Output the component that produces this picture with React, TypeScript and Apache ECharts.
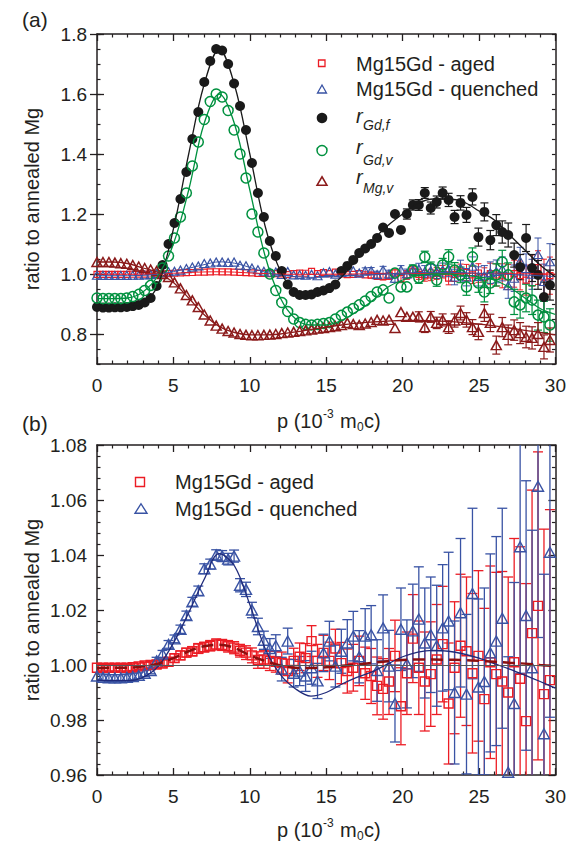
import React, { useEffect, useRef } from 'react';
import * as echarts from 'echarts';

// momentum grid p (10^-3 m0c)
const P = [
  0, 0.39, 0.78, 1.17, 1.56, 1.95, 2.34, 2.73, 3.12, 3.51,
  3.9, 4.29, 4.68, 5.07, 5.46, 5.85, 6.24, 6.63, 7.02, 7.41,
  7.8, 8.19, 8.58, 8.97, 9.36, 9.75, 10.14, 10.53, 10.92, 11.31,
  11.7, 12.09, 12.48, 12.87, 13.26, 13.65, 14.04, 14.43, 14.82, 15.21,
  15.6, 15.99, 16.38, 16.77, 17.16, 17.55, 17.94, 18.33, 18.72, 19.11,
  19.5, 19.89, 20.28, 20.67, 21.06, 21.45, 21.84, 22.23, 22.62, 23.01,
  23.4, 23.79, 24.18, 24.57, 24.96, 25.35, 25.74, 26.13, 26.52, 26.91,
  27.3, 27.69, 28.08, 28.47, 28.86, 29.25, 29.64,
];

// Mg15Gd - aged
const AGED = [
  0.999, 0.999, 0.999, 0.999, 0.999, 0.999, 0.9992, 0.9995, 0.9998, 1.0,
  1.0002, 1.0005, 1.0012, 1.0025, 1.0035, 1.0045, 1.005, 1.006, 1.0065, 1.007,
  1.0075, 1.0073, 1.0068, 1.0063, 1.0052, 1.0045, 1.0035, 1.0018, 1.002, 1.0015,
  1.0012, 1.0007, 0.9978, 1.0015, 1.003, 1.0025, 1.0087, 1.0015, 1.0044, 1.0015,
  1.006, 1.0007, 0.9978, 0.999, 1.0015, 0.997, 0.996, 0.9924, 0.9913, 0.994,
  1.0033, 0.985, 0.997, 1.0096, 0.999, 0.994, 0.9967, 1.002, 1.0076, 0.986,
  0.999, 1.007, 1.005, 0.997, 1.0033, 0.9876, 1.001, 0.9967, 0.994, 0.99,
  1.001, 0.995, 0.9796, 1.0116, 1.0215, 0.9894, 0.9945,
];
const AGED_ERR = [
  0.0012, 0.0012, 0.0012, 0.0012, 0.0012, 0.0012, 0.0012, 0.0012, 0.0012, 0.0012,
  0.0013, 0.0013, 0.0014, 0.0015, 0.0016, 0.0016, 0.0017, 0.0018, 0.0018, 0.0019,
  0.002, 0.002, 0.0021, 0.0022, 0.0023, 0.0025, 0.0027, 0.003, 0.0032, 0.0035,
  0.0038, 0.004, 0.0043, 0.0046, 0.005, 0.0053, 0.0056, 0.006, 0.0064, 0.0068,
  0.007, 0.0075, 0.008, 0.0085, 0.009, 0.0095, 0.01, 0.0105, 0.011, 0.012,
  0.013, 0.014, 0.015, 0.016, 0.017, 0.018, 0.019, 0.02, 0.021, 0.022,
  0.024, 0.026, 0.027, 0.029, 0.031, 0.033, 0.035, 0.037, 0.04, 0.042,
  0.045, 0.048, 0.05, 0.052, 0.056, 0.06, 0.062,
];

// Mg15Gd - quenched
const QUENCHED = [
  0.996, 0.9955, 0.9953, 0.9953, 0.9953, 0.9955, 0.9958, 0.9962, 0.997, 0.998,
  1.0015, 1.004, 1.0075, 1.0095, 1.013, 1.018, 1.023, 1.027, 1.035, 1.0367,
  1.04, 1.0396, 1.0385, 1.0396, 1.029, 1.0275, 1.02, 1.014, 1.009, 1.006,
  1.007, 0.9985, 1.0087, 0.997, 0.9978, 0.996, 0.999, 0.9942, 1.0044, 1.0087,
  0.9996, 1.005, 1.008, 1.0105, 1.003, 1.0105, 1.011, 0.998, 1.0135, 0.9996,
  0.986, 1.013, 1.0004, 1.0124, 1.0167, 1.008, 1.011, 1.007, 1.0135, 1.016,
  0.99, 1.019, 0.9894, 1.026, 0.992, 0.994, 1.0044, 1.0087, 1.017, 0.961,
  0.986, 1.043, 1.018, 0.999, 1.065, 0.975, 1.041,
];
const QUENCHED_ERR = [
  0.0012, 0.0012, 0.0012, 0.0012, 0.0012, 0.0012, 0.0012, 0.0012, 0.0012, 0.0012,
  0.0013, 0.0013, 0.0014, 0.0014, 0.0015, 0.0016, 0.0016, 0.0017, 0.0018, 0.0018,
  0.0019, 0.002, 0.0021, 0.0022, 0.0024, 0.0026, 0.0028, 0.003, 0.0033, 0.0036,
  0.004, 0.0043, 0.0047, 0.005, 0.0053, 0.0056, 0.006, 0.0064, 0.0068, 0.0072,
  0.0076, 0.008, 0.0085, 0.009, 0.0095, 0.01, 0.0106, 0.0112, 0.012, 0.013,
  0.014, 0.015, 0.016, 0.017, 0.019, 0.02, 0.021, 0.022, 0.023, 0.025,
  0.026, 0.027, 0.029, 0.031, 0.032, 0.034, 0.036, 0.038, 0.04, 0.042,
  0.044, 0.046, 0.049, 0.05, 0.055, 0.058, 0.06,
];

// r_Gd,f
const R_GD_F = [
  0.89, 0.888, 0.888, 0.889, 0.889, 0.89, 0.893, 0.897, 0.905, 0.92,
  0.96, 1.03, 1.1, 1.17, 1.25, 1.34, 1.45, 1.54, 1.64, 1.71,
  1.75, 1.745, 1.7, 1.635, 1.56, 1.48, 1.37, 1.27, 1.19, 1.11,
  1.06, 1.01, 0.965, 0.94, 0.93, 0.93, 0.932, 0.94, 0.945, 0.953,
  0.965, 1.01, 1.027, 1.047, 1.07, 1.085, 1.1, 1.12, 1.155, 1.137,
  1.2, 1.147, 1.2, 1.23, 1.23, 1.27, 1.22, 1.24, 1.27, 1.247,
  1.19, 1.237, 1.197, 1.257, 1.123, 1.207, 1.113, 1.163, 1.14, 1.13,
  1.063, 1.023, 1.12, 1.02, 0.997, 0.923, 0.963,
];
const R_GD_F_ERR = [
  0.004, 0.004, 0.004, 0.004, 0.004, 0.004, 0.004, 0.004, 0.004, 0.004,
  0.004, 0.004, 0.004, 0.004, 0.004, 0.004, 0.004, 0.004, 0.004, 0.004,
  0.004, 0.004, 0.004, 0.004, 0.004, 0.004, 0.004, 0.004, 0.004, 0.004,
  0.004, 0.004, 0.004, 0.005, 0.005, 0.005, 0.005, 0.005, 0.006, 0.006,
  0.006, 0.008, 0.008, 0.009, 0.01, 0.01, 0.011, 0.012, 0.013, 0.014,
  0.015, 0.016, 0.017, 0.017, 0.018, 0.018, 0.02, 0.02, 0.02, 0.022,
  0.022, 0.024, 0.025, 0.027, 0.03, 0.03, 0.032, 0.035, 0.037, 0.04,
  0.04, 0.042, 0.045, 0.045, 0.048, 0.05, 0.05,
];

// r_Gd,v
const R_GD_V = [
  0.92, 0.918, 0.918, 0.918, 0.918, 0.92, 0.925, 0.932, 0.945, 0.962,
  0.985, 1.02, 1.06, 1.12, 1.19, 1.27, 1.36, 1.44, 1.515, 1.575,
  1.6, 1.59, 1.545, 1.48, 1.4, 1.32, 1.2, 1.14, 1.07, 1.0,
  0.945, 0.905, 0.875, 0.85, 0.838, 0.832, 0.83, 0.832, 0.835, 0.838,
  0.85, 0.862, 0.873, 0.885, 0.897, 0.91, 0.925, 0.94, 0.947, 0.92,
  1.003, 0.957, 0.957, 1.013, 0.987, 1.057, 1.02, 0.98, 1.03, 1.057,
  1.013, 0.997, 0.957, 1.057, 0.97, 0.94, 0.97, 0.997, 1.04, 0.997,
  0.907, 0.897, 0.92, 0.913, 0.863, 0.857, 0.83,
];
const R_GD_V_ERR = [
  0.004, 0.004, 0.004, 0.004, 0.004, 0.004, 0.004, 0.004, 0.004, 0.004,
  0.004, 0.004, 0.004, 0.004, 0.004, 0.004, 0.004, 0.004, 0.004, 0.004,
  0.004, 0.004, 0.004, 0.004, 0.004, 0.004, 0.004, 0.004, 0.004, 0.004,
  0.004, 0.004, 0.004, 0.004, 0.005, 0.005, 0.005, 0.005, 0.006, 0.006,
  0.006, 0.007, 0.008, 0.009, 0.01, 0.01, 0.011, 0.012, 0.012, 0.013,
  0.014, 0.015, 0.016, 0.017, 0.018, 0.019, 0.02, 0.021, 0.022, 0.024,
  0.025, 0.026, 0.028, 0.03, 0.031, 0.033, 0.035, 0.037, 0.039, 0.04,
  0.042, 0.044, 0.046, 0.048, 0.05, 0.052, 0.054,
];

// r_Mg,v
const R_MG_V = [
  1.04, 1.04, 1.04, 1.038, 1.036, 1.034, 1.03, 1.025, 1.02, 1.015,
  1.01, 1.0, 0.99, 0.972, 0.952, 0.93, 0.912, 0.89, 0.865, 0.845,
  0.828, 0.818, 0.81, 0.805, 0.8, 0.797, 0.796, 0.796, 0.797, 0.798,
  0.8, 0.803, 0.805, 0.807, 0.81, 0.812, 0.815, 0.818, 0.82, 0.823,
  0.826, 0.83, 0.837, 0.833, 0.83, 0.835, 0.84, 0.847, 0.845, 0.847,
  0.82, 0.873, 0.857, 0.857, 0.857, 0.823, 0.857, 0.837, 0.847, 0.823,
  0.845, 0.87, 0.847, 0.823, 0.807, 0.87, 0.837, 0.763, 0.823, 0.797,
  0.813, 0.803, 0.79, 0.787, 0.8, 0.757, 0.78,
];
const R_MG_V_ERR = [
  0.004, 0.004, 0.004, 0.004, 0.004, 0.004, 0.004, 0.004, 0.004, 0.004,
  0.004, 0.004, 0.004, 0.004, 0.004, 0.004, 0.004, 0.004, 0.004, 0.004,
  0.004, 0.004, 0.004, 0.004, 0.004, 0.004, 0.004, 0.004, 0.004, 0.004,
  0.004, 0.004, 0.004, 0.004, 0.004, 0.004, 0.004, 0.004, 0.004, 0.004,
  0.005, 0.006, 0.007, 0.008, 0.008, 0.009, 0.01, 0.01, 0.011, 0.012,
  0.013, 0.014, 0.015, 0.016, 0.017, 0.018, 0.018, 0.019, 0.02, 0.021,
  0.022, 0.023, 0.024, 0.025, 0.026, 0.028, 0.029, 0.03, 0.032, 0.033,
  0.034, 0.035, 0.036, 0.037, 0.038, 0.04, 0.04,
];

// fitted curves, read at integer p
const FIT_P = [0, 1, 2, 3, 4, 5, 6, 7, 8, 9, 10, 11, 12, 13, 14, 15, 16, 17, 18, 19, 20, 21, 22, 23, 24, 25, 26, 27, 28, 29, 30];
const FIT_AGED = [
  0.9988, 0.999, 0.999, 0.9995, 1.0005, 1.0025, 1.005, 1.0068, 1.0074, 1.0062, 1.0035,
  1.0015, 0.9998, 0.999, 0.9989, 0.9992, 0.9997, 1.0002, 1.0008, 1.0014, 1.0018,
  1.002, 1.002, 1.0019, 1.0018, 1.0015, 1.0012, 1.0008, 1.0005, 1.0, 0.9996,
];
const FIT_QUENCHED = [
  0.9945, 0.9943, 0.9943, 0.9955, 0.9995, 1.008, 1.019, 1.031, 1.0405, 1.036, 1.022,
  1.006, 0.9965, 0.9913, 0.9887, 0.99, 0.993, 0.9955, 0.9975, 1.0003, 1.003,
  1.0047, 1.0053, 1.005, 1.004, 1.0025, 1.0005, 0.9985, 0.9963, 0.994, 0.9916,
];
const FIT_GD_F = [
  0.888, 0.888, 0.89, 0.9, 0.965, 1.15, 1.4, 1.63, 1.75, 1.63, 1.4,
  1.16, 1.01, 0.94, 0.93, 0.95, 0.99, 1.05, 1.11, 1.16, 1.2,
  1.235, 1.25, 1.25, 1.24, 1.21, 1.18, 1.13, 1.08, 1.03, 0.99,
];
const FIT_GD_V = [
  0.918, 0.918, 0.92, 0.94, 0.995, 1.1, 1.28, 1.5, 1.6, 1.5, 1.28,
  1.06, 0.92, 0.85, 0.83, 0.83, 0.845, 0.875, 0.91, 0.955, 0.98,
  0.995, 1.0, 1.0, 0.995, 0.99, 0.98, 0.955, 0.92, 0.885, 0.865,
];
const FIT_MG_V = [
  1.04, 1.04, 1.035, 1.02, 1.005, 0.972, 0.92, 0.865, 0.825, 0.805, 0.797,
  0.797, 0.8, 0.807, 0.815, 0.823, 0.83, 0.836, 0.84, 0.843, 0.845,
  0.845, 0.844, 0.842, 0.838, 0.833, 0.827, 0.82, 0.812, 0.805, 0.797,
];

const Y_MAJOR_A = [0.8, 1.0, 1.2, 1.4, 1.6, 1.8];

const INK = '#231f20';
const RED = '#ec1c24';
const BLUE = '#3953a4';
const BLACK = '#1a1a1a';
const GREEN = '#00913f';
const MAROON = '#8b1a1a';
const NAVY = '#1f2a7a';
const DASHRED = '#8b0f0f';
const CLEAR = 'rgba(255,255,255,0)';
const FONT = '"Liberation Sans", Arial, Helvetica, sans-serif';

const pairs = (xs: number[], ys: number[]) => xs.map((x, i) => [x, ys[i]]);

function errSeries(xs: number[], ys: number[], es: number[], color: string, xi: number, yi: number, cap: number, minPx: number, width: number) {
  return {
    type: 'custom',
    xAxisIndex: xi,
    yAxisIndex: yi,
    clip: true,
    silent: true,
    data: xs.map((x, i) => [x, ys[i], es[i]]),
    encode: { x: 0, y: 1 },
    renderItem: (_params: any, api: any) => {
      const x = api.value(0);
      const y = api.value(1);
      const e = api.value(2);
      const a = api.coord([x, y + e]);
      const b = api.coord([x, y - e]);
      if (Math.abs(b[1] - a[1]) < minPx * 2) return { type: 'group', children: [] };
      const st = { stroke: color, lineWidth: width, fill: null };
      return {
        type: 'group',
        children: [
          { type: 'line', shape: { x1: a[0], y1: a[1], x2: b[0], y2: b[1] }, style: st },
          { type: 'line', shape: { x1: a[0] - cap, y1: a[1], x2: a[0] + cap, y2: a[1] }, style: st },
          { type: 'line', shape: { x1: b[0] - cap, y1: b[1], x2: b[0] + cap, y2: b[1] }, style: st },
        ],
      };
    },
  };
}

function scatter(xs: number[], ys: number[], xi: number, yi: number, symbol: string, size: any, fill: string, stroke: string, bw: number) {
  return {
    type: 'scatter',
    xAxisIndex: xi,
    yAxisIndex: yi,
    silent: true,
    data: pairs(xs, ys),
    symbol,
    symbolSize: size,
    itemStyle: { color: fill, borderColor: stroke, borderWidth: bw, opacity: 1 },
  };
}

function fitLine(ys: number[], xi: number, yi: number, color: string, width: number, type: any = 'solid', extra: any = {}) {
  return {
    type: 'line',
    xAxisIndex: xi,
    yAxisIndex: yi,
    silent: true,
    data: pairs(FIT_P, ys),
    smooth: 0.35,
    showSymbol: false,
    symbol: 'none',
    lineStyle: { color, width, type },
    ...extra,
  };
}

const axisLine = { show: true, onZero: false, lineStyle: { color: INK, width: 1.5 } };
const label = (show: boolean, margin: number, formatter?: any) => ({
  show, color: INK, fontSize: 19, fontFamily: FONT, margin, formatter,
});

function xAxis(grid: number, position: string, showLabels: boolean) {
  return {
    type: 'value', gridIndex: grid, position, min: 0, max: 30, interval: 5,
    axisLine,
    axisTick: { show: true, inside: true, length: 7, lineStyle: { color: INK, width: 1.3 } },
    minorTick: { show: true, splitNumber: 5, length: 3.5, lineStyle: { color: INK, width: 1.2 } },
    axisLabel: label(showLabels, 12),
    splitLine: { show: false },
    minorSplitLine: { show: false },
  };
}

const isMajorA = (v: number) => Math.abs(v * 5 - Math.round(v * 5)) < 1e-6;

function yAxisAMain(position: string, showLabels: boolean) {
  return {
    type: 'value', gridIndex: 0, position, min: 0.7, max: 1.8, interval: 0.05,
    axisLine,
    axisTick: { show: true, inside: true, length: 3.5, lineStyle: { color: INK, width: 1.2 } },
    axisLabel: label(showLabels, 10, (v: number) => (isMajorA(v) ? v.toFixed(1) : '')),
    splitLine: { show: false },
  };
}
function yAxisAMajor(position: string) {
  return {
    type: 'value', gridIndex: 0, position, min: 0.7, max: 1.8,
    axisLine: { show: false },
    axisTick: { show: true, inside: true, length: 7, customValues: Y_MAJOR_A, lineStyle: { color: INK, width: 1.3 } },
    axisLabel: { show: false },
    splitLine: { show: false },
  };
}
function yAxisB(position: string, showLabels: boolean) {
  return {
    type: 'value', gridIndex: 1, position, min: 0.96, max: 1.08, interval: 0.02,
    axisLine,
    axisTick: { show: true, inside: true, length: 7, lineStyle: { color: INK, width: 1.3 } },
    minorTick: { show: true, splitNumber: 5, length: 3.5, lineStyle: { color: INK, width: 1.2 } },
    axisLabel: label(showLabels, 10, (v: number) => v.toFixed(2)),
    splitLine: { show: false },
    minorSplitLine: { show: false },
  };
}

const txt = (text: string, x: number, y: number, size: number, extra: any = {}) => ({
  type: 'text', x, y, silent: true,
  style: { text, fontSize: size, fontFamily: FONT, fill: INK, align: 'left', verticalAlign: 'middle', ...extra },
});

function xTitle(y: number) {
  return [
    txt('p (10', 277, y, 20),
    txt('-3', 323, y - 7, 12),
    txt('m', 340, y, 20),
    txt('0', 357, y + 6, 12),
    txt('c)', 364, y, 20),
  ];
}

function yTitle(y: number) {
  return {
    type: 'text', x: 32, y, rotation: Math.PI / 2, silent: true,
    style: { text: 'ratio to annealed Mg', fontSize: 20, fontFamily: FONT, fill: INK, align: 'center', verticalAlign: 'middle' },
  };
}

const tri = (cx: number, cy: number, w: number, h: number) => [[cx, cy - h / 2], [cx + w / 2, cy + h / 2], [cx - w / 2, cy + h / 2]];

function buildOption() {
  const graphic: any[] = [
    txt('(a)', 22, 19, 21),
    txt('(b)', 22, 423, 21),
    yTitle(199),
    yTitle(610),
    ...xTitle(421),
    ...xTitle(830),
    // legend (a)
    { type: 'rect', silent: true, shape: { x: 318.5, y: 60, width: 6.5, height: 6.5 }, style: { fill: CLEAR, stroke: RED, lineWidth: 1.3 } },
    txt('Mg15Gd - aged', 356, 64, 20),
    { type: 'polygon', silent: true, shape: { points: tri(322, 89, 9, 8) }, style: { fill: CLEAR, stroke: BLUE, lineWidth: 1.3 } },
    txt('Mg15Gd - quenched', 356, 89, 20),
    { type: 'circle', silent: true, shape: { cx: 322, cy: 118, r: 5.3 }, style: { fill: BLACK } },
    txt('r', 356, 115.5, 20, { fontStyle: 'italic' }),
    txt('Gd,f', 363, 125, 14, { fontStyle: 'italic' }),
    { type: 'circle', silent: true, shape: { cx: 322, cy: 150.5, r: 5 }, style: { fill: CLEAR, stroke: GREEN, lineWidth: 1.5 } },
    txt('r', 356, 147, 20, { fontStyle: 'italic' }),
    txt('Gd,v', 363, 160, 14, { fontStyle: 'italic' }),
    { type: 'polygon', silent: true, shape: { points: tri(322, 181, 10, 8.5) }, style: { fill: CLEAR, stroke: MAROON, lineWidth: 1.5 } },
    txt('r', 356, 177, 20, { fontStyle: 'italic' }),
    txt('Mg,v', 363, 188, 14, { fontStyle: 'italic' }),
    // legend (b)
    { type: 'rect', silent: true, shape: { x: 135.5, y: 477.5, width: 9, height: 9 }, style: { fill: CLEAR, stroke: RED, lineWidth: 1.4 } },
    txt('Mg15Gd - aged', 175, 482, 20),
    { type: 'polygon', silent: true, shape: { points: tri(141, 508.5, 12, 9.5) }, style: { fill: CLEAR, stroke: BLUE, lineWidth: 1.4 } },
    txt('Mg15Gd - quenched', 175, 509, 20),
  ];

  const series: any[] = [
    // panel (a)
    errSeries(P, AGED, AGED_ERR, RED, 0, 0, 3, 3, 1),
    scatter(P, AGED, 0, 0, 'rect', 6, CLEAR, RED, 1.2),
    fitLine(FIT_AGED, 0, 0, RED, 1),
    errSeries(P, QUENCHED, QUENCHED_ERR, BLUE, 0, 0, 3.5, 3, 1),
    scatter(P, QUENCHED, 0, 0, 'triangle', [9, 8], CLEAR, BLUE, 1.2),
    fitLine(FIT_QUENCHED, 0, 0, BLUE, 1),
    errSeries(P, R_GD_F, R_GD_F_ERR, BLACK, 0, 0, 4, 5, 1.2),
    scatter(P, R_GD_F, 0, 0, 'circle', 10, BLACK, BLACK, 0),
    fitLine(FIT_GD_F, 0, 0, BLACK, 1.3),
    errSeries(P, R_GD_V, R_GD_V_ERR, GREEN, 0, 0, 4, 5, 1.2),
    scatter(P, R_GD_V, 0, 0, 'circle', 10, CLEAR, GREEN, 1.5),
    fitLine(FIT_GD_V, 0, 0, GREEN, 1.3),
    errSeries(P, R_MG_V, R_MG_V_ERR, MAROON, 0, 0, 4, 5, 1.2),
    scatter(P, R_MG_V, 0, 0, 'triangle', [10, 9], CLEAR, MAROON, 1.5),
    fitLine(FIT_MG_V, 0, 0, MAROON, 1.3),
    // panel (b)
    errSeries(P, AGED, AGED_ERR, RED, 2, 4, 5, 0, 1.3),
    scatter(P, AGED, 2, 4, 'rect', 9, CLEAR, RED, 1.4),
    errSeries(P, QUENCHED, QUENCHED_ERR, BLUE, 2, 4, 5, 0, 1.3),
    scatter(P, QUENCHED, 2, 4, 'triangle', [11, 10], CLEAR, BLUE, 1.4),
    fitLine(FIT_QUENCHED, 2, 4, NAVY, 1.3, 'solid', {
      markLine: {
        silent: true, symbol: 'none', label: { show: false },
        lineStyle: { color: '#555', width: 1, type: 'solid' },
        data: [{ yAxis: 1 }],
      },
    }),
    fitLine(FIT_AGED, 2, 4, DASHRED, 2.5, [12, 6]),
  ];

  return {
    animation: false,
    backgroundColor: '#fff',
    textStyle: { fontFamily: FONT },
    grid: [
      { left: 97, top: 34, width: 460, height: 330 },
      { left: 97, top: 445, width: 460, height: 330 },
    ],
    xAxis: [xAxis(0, 'bottom', true), xAxis(0, 'top', false), xAxis(1, 'bottom', true), xAxis(1, 'top', false)],
    yAxis: [
      yAxisAMain('left', true),
      yAxisAMajor('left'),
      yAxisAMain('right', false),
      yAxisAMajor('right'),
      yAxisB('left', true),
      yAxisB('right', false),
    ],
    graphic,
    series,
  };
}

export default function App() {
  const ref = useRef<HTMLDivElement>(null);
  useEffect(() => {
    const chart = echarts.init(ref.current!, null, { renderer: 'svg' });
    chart.setOption(buildOption() as any);
    return () => chart.dispose();
  }, []);
  return (
    <div
      ref={ref}
      style={{ position: 'absolute', left: 0, top: 0, width: 569, height: 845, background: '#fff' }}
    />
  );
}
